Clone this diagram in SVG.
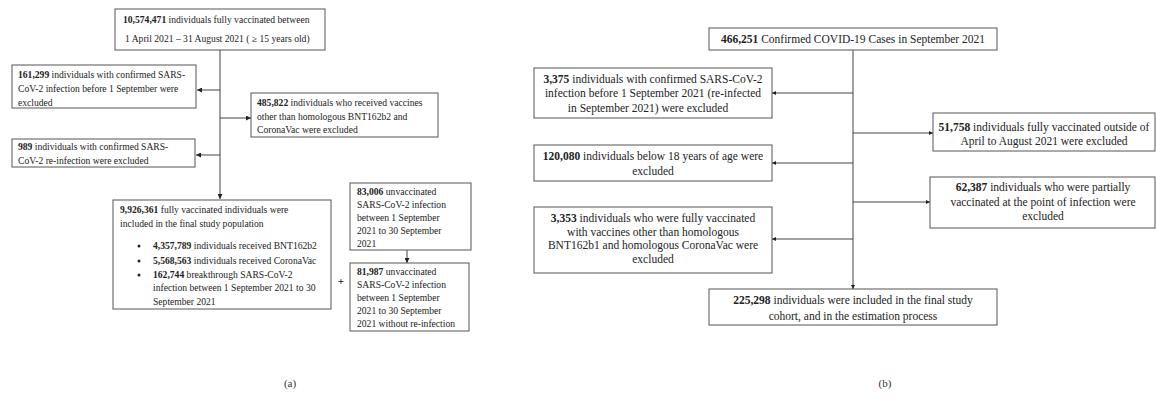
<svg xmlns="http://www.w3.org/2000/svg" width="1156" height="404" viewBox="0 0 1156 404">
<style>
.box{fill:#fff;stroke:#555;stroke-width:1}
.ln{fill:none;stroke:#444;stroke-width:1}
.s{font-family:"Liberation Serif","Times New Roman",serif;font-size:9.6px;fill:#222}
.r{font-family:"Liberation Serif","Times New Roman",serif;font-size:11.5px;fill:#222}
.m{text-anchor:middle}
.b{font-weight:bold}
.cap{font-family:"Liberation Serif","Times New Roman",serif;font-size:11px;fill:#333;text-anchor:middle}
</style>
<defs>
<marker id="ah" viewBox="0 0 10 10" refX="10" refY="5" markerWidth="5" markerHeight="5" orient="auto" markerUnits="userSpaceOnUse">
<path d="M0,0 L10,5 L0,10 z" fill="#222"/>
</marker>
<marker id="ahs" viewBox="0 0 10 10" refX="10" refY="5" markerWidth="4" markerHeight="4" orient="auto" markerUnits="userSpaceOnUse">
<path d="M0,0 L10,5 L0,10 z" fill="#222"/>
</marker>
</defs>

<g id="connectors">
<line class="ln" x1="220" y1="50" x2="220" y2="199" marker-end="url(#ah)"/>
<line class="ln" x1="220" y1="90" x2="197" y2="90" marker-end="url(#ah)"/>
<line class="ln" x1="220" y1="118" x2="251" y2="118" marker-end="url(#ah)"/>
<line class="ln" x1="220" y1="155" x2="196" y2="155" marker-end="url(#ah)"/>
<line class="ln" x1="407" y1="250" x2="407" y2="263" marker-end="url(#ah)"/>
<line class="ln" x1="853" y1="50" x2="853" y2="289" marker-end="url(#ahs)"/>
<line class="ln" x1="853" y1="93" x2="772" y2="93" marker-end="url(#ahs)"/>
<line class="ln" x1="853" y1="163" x2="772" y2="163" marker-end="url(#ahs)"/>
<line class="ln" x1="853" y1="239" x2="772" y2="239" marker-end="url(#ahs)"/>
<line class="ln" x1="853" y1="133" x2="933" y2="133" marker-end="url(#ahs)"/>
<line class="ln" x1="853" y1="202" x2="930" y2="202" marker-end="url(#ahs)"/>
</g>

<g id="a-top">
<rect class="box" x="115" y="9" width="210" height="41"/>
<text class="s" x="123" y="23"><tspan class="b">10,574,471</tspan> individuals fully vaccinated between</text>
<text class="s" x="125" y="42">1 April 2021 – 31 August 2021 ( ≥ 15 years old)</text>
</g>

<g id="a-excl1">
<rect class="box" x="12" y="65" width="184" height="43"/>
<text class="s" x="18" y="78"><tspan class="b">161,299</tspan> individuals with confirmed SARS-</text>
<text class="s" x="18" y="92">CoV-2 infection before 1 September were</text>
<text class="s" x="18" y="106">excluded</text>
</g>

<g id="a-excl2">
<rect class="box" x="251" y="93" width="187" height="44"/>
<text class="s" x="257" y="106"><tspan class="b">485,822</tspan> individuals who received vaccines</text>
<text class="s" x="257" y="120">other than homologous BNT162b2 and</text>
<text class="s" x="257" y="133">CoronaVac were excluded</text>
</g>

<g id="a-excl3">
<rect class="box" x="12" y="139" width="183" height="28"/>
<text class="s" x="18" y="150"><tspan class="b">989</tspan> individuals with confirmed SARS-</text>
<text class="s" x="18" y="164">CoV-2 re-infection were excluded</text>
</g>

<g id="a-final">
<rect class="box" x="113" y="200" width="218" height="109"/>
<text class="s" x="120" y="213"><tspan class="b">9,926,361</tspan> fully vaccinated individuals were</text>
<text class="s" x="120" y="227">included in the final study population</text>
<circle cx="139" cy="246" r="1.5" fill="#222"/>
<circle cx="139" cy="261" r="1.5" fill="#222"/>
<circle cx="139" cy="275" r="1.5" fill="#222"/>
<text class="s" x="153" y="249"><tspan class="b">4,357,789</tspan> individuals received BNT162b2</text>
<text class="s" x="153" y="264"><tspan class="b">5,568,563</tspan> individuals received CoronaVac</text>
<text class="s" x="153" y="278"><tspan class="b">162,744</tspan> breakthrough SARS-CoV-2</text>
<text class="s" x="153" y="291">infection between 1 September 2021 to 30</text>
<text class="s" x="153" y="305">September 2021</text>
</g>

<g id="a-unvax">
<rect class="box" x="350" y="183" width="121" height="67"/>
<text class="s" x="357" y="195"><tspan class="b">83,006</tspan> unvaccinated</text>
<text class="s" x="357" y="208">SARS-CoV-2 infection</text>
<text class="s" x="357" y="221">between 1 September</text>
<text class="s" x="357" y="234">2021 to 30 September</text>
<text class="s" x="357" y="247">2021</text>
</g>

<g id="a-unvax2">
<rect class="box" x="350" y="263" width="119" height="68"/>
<text class="s" x="357" y="275"><tspan class="b">81,987</tspan> unvaccinated</text>
<text class="s" x="357" y="288">SARS-CoV-2 infection</text>
<text class="s" x="357" y="301">between 1 September</text>
<text class="s" x="357" y="314">2021 to 30 September</text>
<text class="s" x="357" y="327">2021 without re-infection</text>
</g>

<text class="s b" x="341" y="285" text-anchor="middle" style="font-size:11px">+</text>

<g id="b-top">
<rect class="box" x="709" y="28" width="288" height="22"/>
<text class="r m" x="853" y="43"><tspan class="b">466,251</tspan> Confirmed COVID-19 Cases in September 2021</text>
</g>

<g id="b-excl1">
<rect class="box" x="534" y="68" width="238" height="50"/>
<text class="r m" x="653" y="83"><tspan class="b">3,375</tspan> individuals with confirmed SARS-CoV-2</text>
<text class="r m" x="653" y="97">infection before 1 September 2021 (re-infected</text>
<text class="r m" x="648" y="112">in September 2021) were excluded</text>
</g>

<g id="b-excl2">
<rect class="box" x="534" y="145" width="238" height="36"/>
<text class="r m" x="653" y="160"><tspan class="b">120,080</tspan> individuals below 18 years of age were</text>
<text class="r m" x="653" y="175">excluded</text>
</g>

<g id="b-excl3">
<rect class="box" x="534" y="207" width="238" height="66"/>
<text class="r m" x="653" y="222"><tspan class="b">3,353</tspan> individuals who were fully vaccinated</text>
<text class="r m" x="653" y="235.5">with vaccines other than homologous</text>
<text class="r m" x="653" y="249">BNT162b1 and homologous CoronaVac were</text>
<text class="r m" x="653" y="262.5">excluded</text>
</g>

<g id="b-excl4">
<rect class="box" x="933" y="113" width="222" height="38"/>
<text class="r m" x="1044" y="131"><tspan class="b">51,758</tspan> individuals fully vaccinated outside of</text>
<text class="r m" x="1044" y="145">April to August 2021 were excluded</text>
</g>

<g id="b-excl5">
<rect class="box" x="930" y="177" width="225" height="51"/>
<text class="r m" x="1043" y="191"><tspan class="b">62,387</tspan> individuals who were partially</text>
<text class="r m" x="1043" y="206">vaccinated at the point of infection were</text>
<text class="r m" x="1043" y="220">excluded</text>
</g>

<g id="b-final">
<rect class="box" x="709" y="289" width="288" height="36"/>
<text class="r m" x="853" y="304"><tspan class="b">225,298</tspan> individuals were included in the final study</text>
<text class="r m" x="853" y="320">cohort, and in the estimation process</text>
</g>

<text class="cap" x="290" y="387">(a)</text>
<text class="cap" x="885" y="387">(b)</text>
</svg>
